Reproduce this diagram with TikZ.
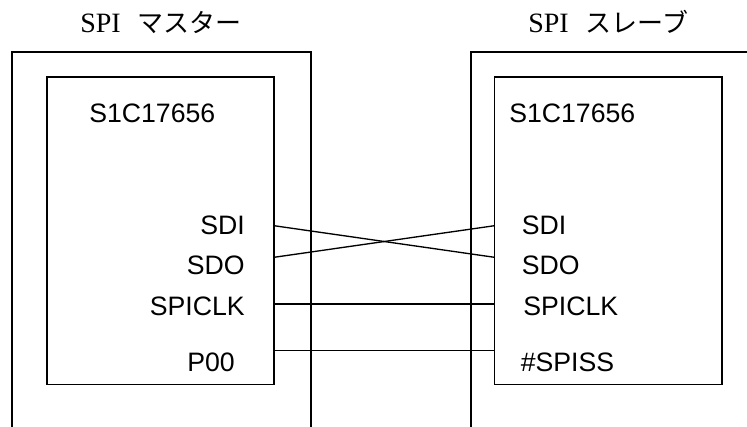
\documentclass[tikz,border=0pt]{standalone}
\usepackage{fontspec}
\setmainfont{Liberation Serif}
\newfontfamily\labelfont{Liberation Sans}
\newfontfamily\jpfont{Noto Sans CJK JP}
\usetikzlibrary{positioning}

\begin{document}
\begin{tikzpicture}[x=0.75pt,y=-0.75pt,
    board/.style={line width=1.3pt},
    chip/.style={line width=1.2pt},
    wire/.style={line width=1pt},
    title/.style={anchor=base west, inner sep=0pt, font=\fontsize{21}{24}\selectfont},
    pin/.style={inner sep=0pt, font=\labelfont\fontsize{20}{24}\selectfont}]
    \useasboundingbox (0,0) rectangle (747,426);
    \clip (0,0) rectangle (747,426);

    % titles
    \node[title] (mtitle) at (80,32) {SPI\hspace{0.6em}{\jpfont\fontsize{19.5}{24}\selectfont マスター}};
    \node[title] (stitle) at (528,32) {SPI\hspace{0.6em}{\jpfont\fontsize{19.5}{24}\selectfont スレーブ}};

    % outer boards, open at the bottom
    \draw[board] (12.3,430) -- (12.3,52) -- (311,52) -- (311,430);
    \draw[board] (470.7,430) -- (470.7,52) -- (760,52);

    % chips
    \draw[chip] (46.7,76.7) rectangle (274,384.3);
    \draw[chip] (494.5,77) rectangle (721.7,384.3);
    \node[pin, anchor=base west] (mchip) at (89,122) {S1C17656};
    \node[pin, anchor=base west] (schip) at (509,122) {S1C17656};

    % master pins
    \node[pin, anchor=base east] (msdi) at (245,234) {SDI};
    \node[pin, anchor=base east] (msdo) at (245,274) {SDO};
    \node[pin, anchor=base east] (mclk) at (245,315) {SPICLK};
    \node[pin, anchor=base east] (mp00) at (235,371) {P00};
    \coordinate (mSDI) at (274,225.7);
    \coordinate (mSDO) at (274,257.3);
    \coordinate (mCLK) at (274,304);
    \coordinate (mP00) at (274,350.3);

    % slave pins
    \node[pin, anchor=base west] (ssdi) at (521.5,234) {SDI};
    \node[pin, anchor=base west] (ssdo) at (521.5,274) {SDO};
    \node[pin, anchor=base west] (sclk) at (523,315) {SPICLK};
    \node[pin, anchor=base west] (sss) at (520.5,371) {\#SPISS};
    \coordinate (sSDI) at (494.5,225.7);
    \coordinate (sSDO) at (494.5,257.3);
    \coordinate (sCLK) at (494.5,304);
    \coordinate (sSS) at (494.5,350.3);

    % wires
    \draw[wire] (mSDI) -- (sSDO);
    \draw[wire] (mSDO) -- (sSDI);
    \draw[wire] (mCLK) -- (sCLK);
    \draw[wire] (mP00) -- (sSS);
\end{tikzpicture}
\end{document}
